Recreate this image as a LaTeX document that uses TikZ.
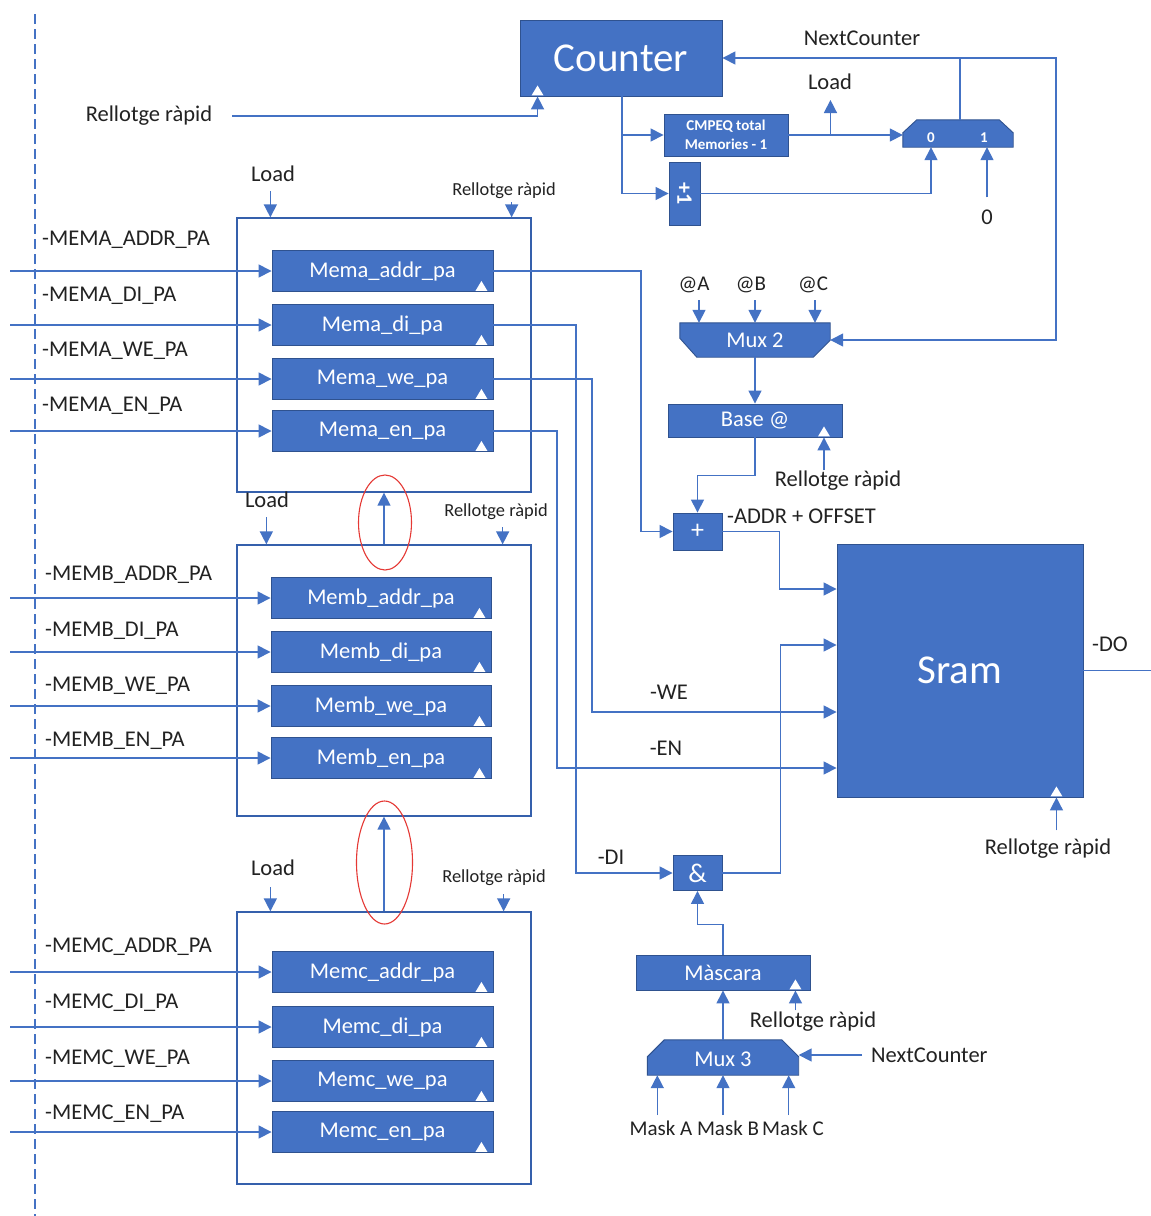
\documentclass[tikz,border=0pt]{standalone}
\usepackage{fontspec}
\setmainfont{Carlito}
\usetikzlibrary{arrows.meta,shapes.geometric}

\definecolor{boxfill}{HTML}{4472C4}
\definecolor{boxline}{HTML}{2F528F}
\definecolor{wirec}{HTML}{4472C4}
\definecolor{grpline}{HTML}{3560AC}
\definecolor{ink}{HTML}{222222}
\definecolor{ringred}{HTML}{E53935}

\newcommand\setfs[1]{\fontsize{#1}{#1}\selectfont}
% white clock triangle sitting on the lower edge of a block
\newcommand\clockmark[2]{\fill[white,shift={(#1)},xshift=#2] (-6,-1) -- (6,-1) -- (0,-11) -- cycle;}

\tikzset{
  blockbox/.style={fill=boxfill, draw=boxline, line width=0.9pt, text=white, inner sep=0pt},
  regbox/.style={blockbox, minimum width=221pt, minimum height=41pt},
  wire/.style={draw=wirec, line width=1.5pt},
  arr/.style={wire, -{Triangle[length=13pt,width=13pt]}},
  lbl/.style={inner sep=0pt, text=ink},
  smalllbl/.style={lbl, font=\setfs{18.4}},
  grpbox/.style={draw=grpline, line width=1.3pt, minimum width=294pt, inner sep=0pt},
  ring/.style={draw=ringred, line width=1.1pt, ellipse, inner sep=0pt},
  muxtxt/.style={text=white, inner sep=0pt, font=\setfs{15}\bfseries},
}

\begin{document}
\begin{tikzpicture}[x=1pt, y=-1pt, font=\setfs{22.5}]
\fill[white] (0,0) rectangle (1151,1216);
\useasboundingbox (0,0) rectangle (1151,1216);

% left boundary
\draw[draw=wirec, line width=1.5pt, dash pattern=on 10pt off 5pt] (35,14) -- (35,1216);
\coordinate (lft) at (10,0);

% ---------------- counter section ----------------
\node[blockbox, minimum width=202pt, minimum height=76pt, font=\setfs{41}] (counter) at (621,58) {Counter};
\clockmark{counter.south west}{18pt}
\node[lbl] (rrc) at (149,116) {Rellotge ràpid};
\draw[arr] ([xshift=20pt]rrc.east) -| ([xshift=18pt]counter.south west);

\node[blockbox, minimum width=124pt, minimum height=42pt, align=center,
      font=\fontsize{15}{19}\selectfont\bfseries] (cmp) at (726,135) {CMPEQ total\\Memories - 1};
\node[blockbox, minimum width=31pt, minimum height=63pt] (inc) at (684.5,193.5) {};
\node[text=white, rotate=-90, inner sep=0pt, font=\setfs{22}\bfseries] at (inc) {+1};

\draw[arr] ([xshift=1pt]counter.south) |- (inc.west);
\draw[arr] ([xshift=1pt]counter.south |- cmp.west) -- (cmp.west);

% 2:1 selector
\node[minimum width=110pt, minimum height=27pt, inner sep=0pt] (mx) at (958,133.5) {};
\fill[boxfill, draw=boxline, line width=0.9pt]
  (mx.south west) -- ([yshift=-13pt]mx.north west) -- ([xshift=14pt]mx.north west)
  -- ([xshift=-14pt]mx.north east) -- ([yshift=-13pt]mx.north east) -- (mx.south east) -- cycle;
\node[muxtxt] at (931,138) {0};
\node[muxtxt] at (984,138) {1};

\draw[arr] (cmp.east) -- (cmp.east -| mx.west);
\draw[arr] ([xshift=42pt]cmp.east) -- ++(0,-35);
\node[lbl] (ldc) at (830,82) {Load};
\draw[arr] (inc.east) -| ([xshift=-27pt]mx.south);
\node[lbl] (zero) at (987,217) {0};
\draw[arr] ([yshift=12pt]zero.north) -- (zero.north |- mx.south);

% next counter loop
\coordinate (loopR) at (1056,0);
\node[lbl] (ncl) at (862,38) {NextCounter};
\draw[arr] ([xshift=2pt]mx.north) |- (counter.east);

% ---------------- address path ----------------
\node[minimum width=150pt, minimum height=34pt, inner sep=0pt] (mux2) at (755,340) {};
\fill[boxfill, draw=boxline, line width=0.9pt]
  (mux2.north west) -- (mux2.north east) -- ([yshift=17pt]mux2.south east)
  -- ([xshift=-17pt]mux2.south east) -- ([xshift=17pt]mux2.south west)
  -- ([yshift=19pt]mux2.south west) -- cycle;
\node[text=white, inner sep=0pt] at (mux2) {Mux 2};
\draw[arr] ([xshift=2pt]mx.north |- counter.east) -| (loopR |- mux2.east) -- (mux2.east);

\node[lbl, font=\setfs{21}] (ata) at (694,285) {@A};
\node[lbl, font=\setfs{21}] (atb) at (751,285) {@B};
\node[lbl, font=\setfs{21}] (atc) at (813,285) {@C};
\draw[arr] ([shift={(5,15)}]ata.center) -- ([xshift=5pt]ata.center |- mux2.north);
\draw[arr] ([shift={(4,15)}]atb.center) -- ([xshift=4pt]atb.center |- mux2.north);
\draw[arr] ([shift={(2,15)}]atc.center) -- ([xshift=2pt]atc.center |- mux2.north);

\node[blockbox, minimum width=174pt, minimum height=33pt] (base) at (755,420.5) {Base @};
\clockmark{base.south}{69pt}
\draw[arr] (mux2.south) -- (base.north);
\node[lbl] (rrb) at (838,481) {Rellotge ràpid};
\draw[arr] ([shift={(69,33)}]base.south) -- ([xshift=69pt]base.south);

\node[blockbox, minimum width=49pt, minimum height=37pt, font=\setfs{26}] (plus) at (697.5,531.5) {+};
\node[lbl, anchor=west] (aol) at (727,516) {-ADDR + OFFSET};
\draw[arr] (base.south) -- ++(0,38) -| (plus.north);

% ---------------- memory ----------------
\node[blockbox, minimum width=246pt, minimum height=253pt, font=\setfs{41}] (sram) at (960,670.5) {Sram};
\clockmark{sram.south east}{-27pt}
\node[lbl] (rrs) at (1048,849) {Rellotge ràpid};
\draw[arr] ([shift={(-27,33)}]sram.south east) -- ([xshift=-27pt]sram.south east);
\draw[wire] (sram.east) -- ++(68,0);
\node[lbl] (dol) at (1110,644) {-DO};

\draw[arr] (plus.east) -- ++(57,0) |- ([yshift=81.5pt]sram.west);

% data mask path
\node[blockbox, minimum width=49pt, minimum height=35pt, font=\setfs{27}] (andg) at (697.5,873) {\&};
\draw[arr] (andg.east) -- ++(58,0) |- ([yshift=25.5pt]sram.west);

\node[blockbox, minimum width=174pt, minimum height=35pt] (masc) at (723,972.5) {Màscara};
\clockmark{masc.south east}{-15pt}
\draw[arr] (masc.north) -- ++(0,-30) -| (andg.south);
\node[lbl] (rrm) at (813,1022) {Rellotge ràpid};
\draw[arr] ([shift={(-15,20)}]masc.south east) -- ([xshift=-15pt]masc.south east);

\node[minimum width=151pt, minimum height=35pt, inner sep=0pt] (mux3) at (723,1057.5) {};
\fill[boxfill, draw=boxline, line width=0.9pt]
  (mux3.south west) -- ([yshift=-17pt]mux3.north west) -- ([xshift=17pt]mux3.north west)
  -- ([xshift=-17pt]mux3.north east) -- ([yshift=-17pt]mux3.north east) -- (mux3.south east) -- cycle;
\node[text=white, inner sep=0pt] at ([yshift=-2pt]mux3.center) {Mux 3};
\draw[arr] (mux3.north) -- (masc.south);
\node[lbl, anchor=west] (nc3) at (871,1055) {NextCounter};
\draw[arr] ([xshift=-9pt]nc3.west) -- (nc3.west -| mux3.east);
\draw[arr] ([shift={(10,40)}]mux3.south west) -- ([xshift=10pt]mux3.south west);
\draw[arr] ([shift={(0,40)}]mux3.south) -- (mux3.south);
\draw[arr] ([shift={(-10,40)}]mux3.south east) -- ([xshift=-10pt]mux3.south east);
\node[lbl, font=\setfs{21}] (mka) at (661,1128) {Mask A};
\node[lbl, font=\setfs{21}] (mkb) at (728,1128) {Mask B};
\node[lbl, font=\setfs{21}] (mkc) at (793,1128) {Mask C};

% ---------------- register groups ----------------
\node[grpbox, minimum height=274pt] (ga) at (384,355) {};
\node[regbox] (ra1) at (382.5,271) {Mema\_addr\_pa};
\node[regbox] (ra2) at (382.5,325) {Mema\_di\_pa};
\node[regbox] (ra3) at (382.5,379) {Mema\_we\_pa};
\node[regbox] (ra4) at (382.5,431) {Mema\_en\_pa};
\node[lbl, anchor=west] at (42,240) {-MEMA\_ADDR\_PA};
\node[lbl, anchor=west] at (42,296) {-MEMA\_DI\_PA};
\node[lbl, anchor=west] at (42,351) {-MEMA\_WE\_PA};
\node[lbl, anchor=west] at (42,406) {-MEMA\_EN\_PA};
\node[lbl] (lda) at (273,174) {Load};
\draw[arr] ([shift={(34,-26)}]ga.north west) -- ([xshift=34pt]ga.north west);
\node[smalllbl] (cka) at (504,191) {Rellotge ràpid};
\draw[arr] ([shift={(-20,-15)}]ga.north east) -- ([xshift=-20pt]ga.north east);

\node[grpbox, minimum height=271pt] (gb) at (384,680.5) {};
\node[regbox, minimum width=220pt] (rb1) at (381,598) {Memb\_addr\_pa};
\node[regbox, minimum width=220pt] (rb2) at (381,652) {Memb\_di\_pa};
\node[regbox, minimum width=220pt] (rb3) at (381,706) {Memb\_we\_pa};
\node[regbox, minimum width=220pt] (rb4) at (381,758) {Memb\_en\_pa};
\node[lbl, anchor=west] at (45,575) {-MEMB\_ADDR\_PA};
\node[lbl, anchor=west] at (45,631) {-MEMB\_DI\_PA};
\node[lbl, anchor=west] at (45,686) {-MEMB\_WE\_PA};
\node[lbl, anchor=west] at (45,741) {-MEMB\_EN\_PA};
\node[lbl] (ldb) at (267,500) {Load};
\draw[arr] ([shift={(30,-27)}]gb.north west) -- ([xshift=30pt]gb.north west);
\node[smalllbl] (ckb) at (496,512) {Rellotge ràpid};
\draw[arr] ([shift={(-29,-17)}]gb.north east) -- ([xshift=-29pt]gb.north east);

\node[grpbox, minimum height=272pt] (gc) at (384,1048) {};
\node[regbox] (rc1) at (382.5,972) {Memc\_addr\_pa};
\node[regbox] (rc2) at (382.5,1027) {Memc\_di\_pa};
\node[regbox] (rc3) at (382.5,1081) {Memc\_we\_pa};
\node[regbox] (rc4) at (382.5,1132) {Memc\_en\_pa};
\node[lbl, anchor=west] at (45,947) {-MEMC\_ADDR\_PA};
\node[lbl, anchor=west] at (45,1003) {-MEMC\_DI\_PA};
\node[lbl, anchor=west] at (45,1059) {-MEMC\_WE\_PA};
\node[lbl, anchor=west] at (45,1114) {-MEMC\_EN\_PA};
\node[lbl] (ldcg) at (273,868) {Load};
\draw[arr] ([shift={(34,-24)}]gc.north west) -- ([xshift=34pt]gc.north west);
\node[smalllbl] (ckc) at (494,878) {Rellotge ràpid};
\draw[arr] ([shift={(-28,-17)}]gc.north east) -- ([xshift=-28pt]gc.north east);

\foreach \r in {ra1,ra2,ra3,ra4,rb1,rb2,rb3,rb4,rc1,rc2,rc3,rc4}{
  \draw[arr] (lft |- \r.west) -- (\r.west);
  \clockmark{\r.south east}{-12pt}
}

% chaining between groups
\node[ring, minimum width=53pt, minimum height=95pt] (ovab) at (385,522.5) {};
\node[ring, minimum width=56pt, minimum height=123pt] (ovbc) at (384.5,862.5) {};
\draw[arr] (gb.north) -- (ga.south);
\draw[arr] (gc.north) -- (gb.south);

% register outputs towards the memory
\coordinate (xa) at (641,0);
\coordinate (xd) at (576,0);
\coordinate (xw) at (592,0);
\coordinate (xe) at (557,0);
\draw[arr] (ra1.east) -| (xa |- plus.west) -- (plus.west);
\draw[arr] (ra2.east) -| (xd |- andg.west) -- (andg.west);
\draw[arr] (ra3.east) -| (xw |- 0,712) -- ([yshift=-41.5pt]sram.west);
\draw[arr] (ra4.east) -| (xe |- 0,768) -- ([yshift=-97.5pt]sram.west);
\node[lbl] (wel) at (669,692) {-WE};
\node[lbl] (enl) at (666,748) {-EN};
\node[lbl] (dil) at (611,857) {-DI};
\end{tikzpicture}
\end{document}
